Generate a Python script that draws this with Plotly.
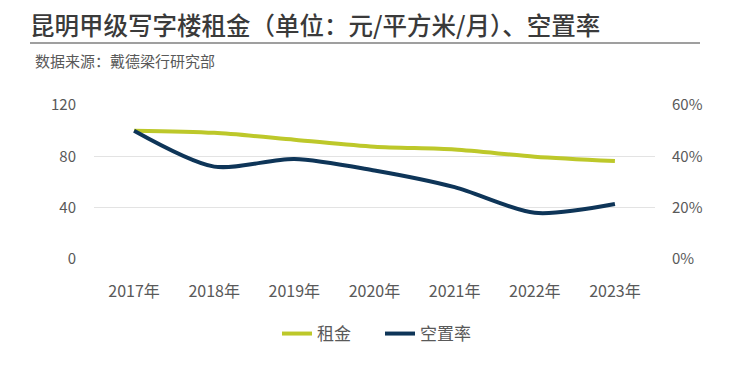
import plotly.graph_objects as go

years = ["2017年", "2018年", "2019年", "2020年", "2021年", "2022年", "2023年"]
rent = [100, 98.3, 93, 87.5, 85.3, 79.7, 76.3]
vacancy = [0.50, 0.36, 0.39, 0.345, 0.28, 0.18, 0.214]

left_ticks = [0, 40, 80, 120]
right_ticks = [0, 0.2, 0.4, 0.6]
right_labels = ["0%", "20%", "40%", "60%"]

FONT = "Noto Sans CJK SC"
GREEN = "#bdc82a"
NAVY = "#0e3558"

# page body has an 8px offset; positions below are in figure pixels
L, R, T, B = 86, 647, 97, 251
W, H = 740, 367
PW, PH = R - L, B - T

fig = go.Figure()
fig.add_trace(go.Scatter(x=years, y=rent, name="租金", mode="lines",
                         line=dict(color=GREEN, width=4, shape="spline", smoothing=0.8)))
fig.add_trace(go.Scatter(x=years, y=vacancy, name="空置率", mode="lines", yaxis="y2",
                         line=dict(color=NAVY, width=4, shape="spline", smoothing=0.8)))

fig.update_layout(
    width=W, height=H,
    margin=dict(l=L, r=W - R, t=T, b=H - B, autoexpand=False),
    paper_bgcolor="white", plot_bgcolor="white",
    font=dict(family=FONT, color="#595959", size=15),
    showlegend=True,
    title=dict(text="昆明甲级写字楼租金（单位：元/平方米/月）、空置率", xref="container", yref="container",
               x=22/W, xanchor="left", y=1-18/H, yanchor="middle",
               font=dict(size=24.5, color="#3a3a3a", family=FONT, weight=500)),
    legend=dict(orientation="h", x=(372-L)/PW, xanchor="center", yref="container",
                y=1-326/H, yanchor="middle", entrywidth=58,
                font=dict(size=17, color="#595959"), itemwidth=30),
    xaxis=dict(type="category", range=[-0.5, 6.5], showgrid=False, showline=False,
               ticks="", ticklabelstandoff=21, automargin=False,
               tickfont=dict(size=16, color="#595959")),
    yaxis=dict(range=[0, 120], tickvals=left_ticks, showgrid=True, gridcolor="#e3e3e3",
               gridwidth=1, zeroline=False, ticks="", ticklabelstandoff=17, automargin=False,
               tickfont=dict(size=15, color="#595959")),
    yaxis2=dict(range=[0, 0.6], tickvals=right_ticks, ticktext=right_labels, overlaying="y",
                side="right", showgrid=False, zeroline=False, ticks="", ticklabelstandoff=16,
                automargin=False, tickfont=dict(size=15, color="#595959")),
    annotations=[
        dict(text="数据来源：戴德梁行研究部", xref="paper", yref="paper",
             x=(25-L)/PW, xanchor="left", y=(B-52)/PH, yanchor="middle", showarrow=False,
             font=dict(size=15, color="#595959", family=FONT)),
    ],
    shapes=[dict(type="line", xref="paper", yref="paper", x0=(22-L)/PW, x1=(692-L)/PW,
                 y0=(B-35)/PH, y1=(B-35)/PH, line=dict(color="#7f7f7f", width=1.5))],
)

fig.write_html("out.html")
